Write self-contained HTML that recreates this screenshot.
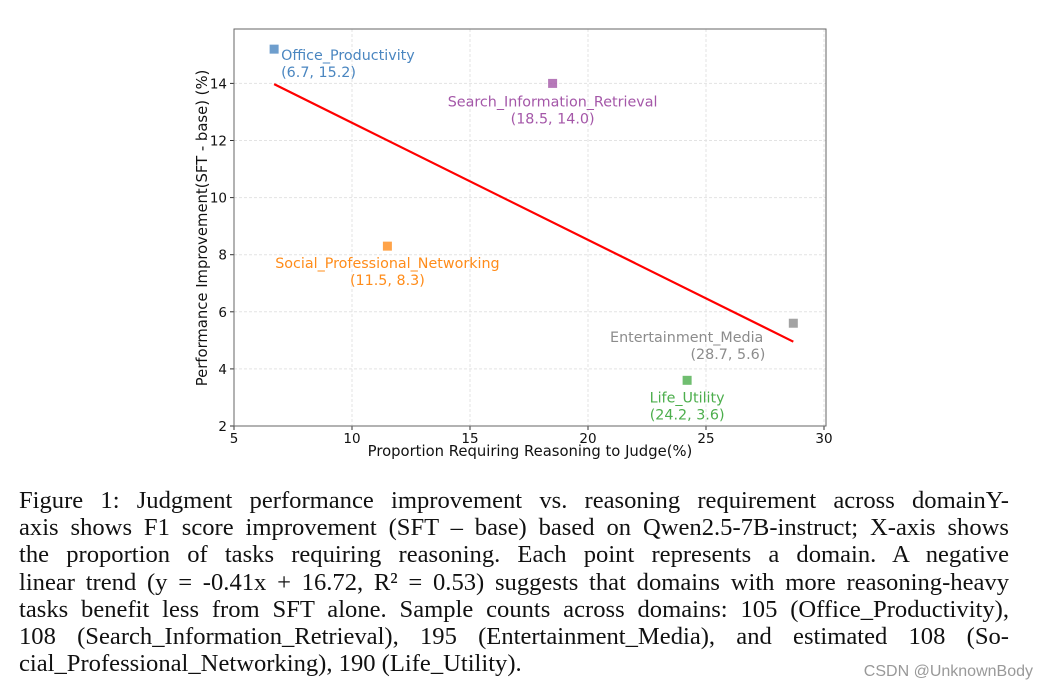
<!DOCTYPE html>
<html><head><meta charset="utf-8"><style>
body{margin:0;background:#fff;width:1041px;height:691px;overflow:hidden;position:relative}
svg{position:absolute;left:0;top:0}
.cap{position:absolute;left:19px;width:990px;font-family:"Liberation Serif",serif;font-size:24.6px;color:#111}
.cap div{height:27.2px;line-height:27.2px;text-align:justify;text-align-last:justify;white-space:nowrap}
.cap div.last{text-align-last:left}
.wm{position:absolute;right:8px;top:663px;font-family:"Liberation Sans",sans-serif;font-size:16px;color:#999}
</style></head><body>
<svg id="chart" width="1041" height="470" font-family="DejaVu Sans, sans-serif"></svg>
<div class="cap" style="top:487px">
<div>Figure 1: Judgment performance improvement vs. reasoning requirement across domainY-</div>
<div>axis shows F1 score improvement (SFT – base) based on Qwen2.5-7B-instruct; X-axis shows</div>
<div>the proportion of tasks requiring reasoning. Each point represents a domain. A negative</div>
<div>linear trend (y = -0.41x + 16.72, R² = 0.53) suggests that domains with more reasoning-heavy</div>
<div>tasks benefit less from SFT alone. Sample counts across domains: 105 (Office_Productivity),</div>
<div>108 (Search_Information_Retrieval), 195 (Entertainment_Media), and estimated 108 (So-</div>
<div class="last">cial_Professional_Networking), 190 (Life_Utility).</div>
</div>
<div class="wm">CSDN @UnknownBody</div>
<script>
const names=["Office_Productivity","Search_Information_Retrieval","Social_Professional_Networking","Entertainment_Media","Life_Utility"];
const xVals=[6.7,18.5,11.5,28.7,24.2];
const yVals=[15.2,14.0,8.3,5.6,3.6];
const colors=["#4a86c0","#a457a8","#ff8c1a","#8c8c8c","#4cae4c"];
const xTicks=[5,10,15,20,25,30];
const yTicks=[2,4,6,8,10,12,14];
const slope=-0.41, intercept=16.72;
const L=234,R=826,T=29,B=426;
const sx=v=>234+(v-5)*23.6;
const sy=v=>426-(v-2)*28.55;
const svg=document.getElementById('chart');
const NS="http://www.w3.org/2000/svg";
function mk(t,a,p){const e=document.createElementNS(NS,t);for(const k in a)e.setAttribute(k,a[k]);(p||svg).appendChild(e);return e;}
xTicks.forEach(t=>{const x=sx(t);
 const g=mk('line',{x1:x,x2:x,y1:T,y2:B,stroke:'#e3e3e3','stroke-dasharray':'3,2'});
 mk('line',{x1:x,x2:x,y1:B,y2:B+4,stroke:'#333'});
 const l=mk('text',{x:x,y:B+17,'text-anchor':'middle','font-size':13.5,fill:'#111'});l.textContent=t;
 });
yTicks.forEach(t=>{const y=sy(t);
 const g=mk('line',{x1:L,x2:R,y1:y,y2:y,stroke:'#e3e3e3','stroke-dasharray':'3,2'});
 mk('line',{x1:L-4,x2:L,y1:y,y2:y,stroke:'#333'});
 const l=mk('text',{x:L-7,y:y+5,'text-anchor':'end','font-size':13.5,fill:'#111'});l.textContent=t;
 });
const fr=mk('rect',{x:L,y:T,width:R-L,height:B-T,fill:'none',stroke:'#666','stroke-width':1});

const xmin=Math.min(...xVals),xmax=Math.max(...xVals);
const tl=mk('line',{x1:sx(xmin),y1:sy(slope*xmin+intercept),x2:sx(xmax),y2:sy(slope*xmax+intercept),stroke:'#f00','stroke-width':2.2});

const lab=[["start",7,11],["middle",0,23],["middle",0,22],["end",-30,19],["middle",0,22]];
names.forEach((n,i)=>{const x=sx(xVals[i]),y=sy(yVals[i]);
 const m=mk('rect',{x:x-4.5,y:y-4.5,width:9,height:9,fill:colors[i],opacity:0.8});
 
 const [a,dx,dy]=lab[i];
 let t1=mk('text',{x:x+dx,y:y+dy,'text-anchor':a,'font-size':14.3,fill:colors[i]});t1.textContent=n;
 
 let dx2=dx; if(i===3){dx2=-28;}
 let t2=mk('text',{x:x+dx2,y:y+dy+17,'text-anchor':a,'font-size':14.3,fill:colors[i]});
 t2.textContent='('+xVals[i].toFixed(1)+', '+yVals[i].toFixed(1)+')';
 
});
const xt=mk('text',{x:530,y:456,'text-anchor':'middle','font-size':14.8,fill:'#111'});xt.textContent='Proportion Requiring Reasoning to Judge(%)';

const yt=mk('text',{x:0,y:0,'text-anchor':'middle','font-size':14.8,fill:'#111',transform:'translate(207,228) rotate(-90)'});yt.textContent='Performance Improvement(SFT - base) (%)';

</script>
</body></html>
